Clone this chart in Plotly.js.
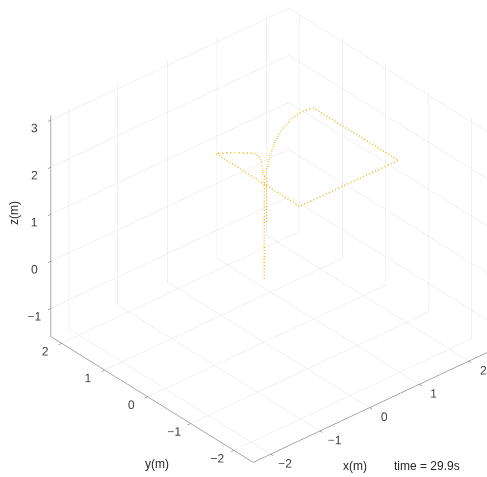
<!DOCTYPE html>
<html>
<head>
<meta charset="utf-8">
<script src="https://cdn.plot.ly/plotly-3.0.1.min.js"></script>
<style>html,body{margin:0;padding:0;background:#fff;}#chart{width:487px;height:477px;}</style>
</head>
<body>
<div id="chart"></div>
<script>
// Trajectory samples (x, y, z in metres)
var pathX = [0, 0, 0.25, 0.57, 0.83, 1.13, 1.42, 1.62, 1.79, 1.89, 1.90, -0.09, -0.07, 0.13, 0.28, 0.37, 0.37, 0.28, 0.08, 0.03, 0.03];
var pathY = [0, 0, 0.22, 0.50, 0.71, 0.89, 1.02, 1.06, 1.06, 1.03, -0.93, -0.92, 1.04, 0.89, 0.75, 0.67, 0.55, 0.38, 0.12, -0.02, -0.02];
var pathZ = [-0.25, 1.85, 1.85, 1.85, 1.85, 1.85, 1.85, 1.85, 1.85, 1.85, 1.85, 1.85, 1.85, 1.85, 1.85, 1.85, 1.85, 1.85, 1.85, 1.85, 0.9];

var xRange = [-2.35, 2.45];
var yRange = [-2.45, 2.25];
var zRange = [-1.6, 3.1];
var xTicks = [-2, -1, 0, 1, 2];
var yTicks = [-2, -1, 0, 1, 2];
var zTicks = [-1, 0, 1, 2, 3];
var timeLabel = 'time = 29.9s';

// view: looking from (-x, -y, +z), orthographic
var N = 1.5;
var K = 1.322;
var shift = {x: -0.0952, y: 0.0662, z: -0.0194};
var eye = {x: -0.552 * N + shift.x, y: -0.635 * N + shift.y, z: 0.5406 * N + shift.z};

function axisStyle(range, ticks) {
  return {
    range: range,
    tickmode: 'array',
    tickvals: ticks,
    tickangle: 0,
    showgrid: true,
    gridcolor: '#e3e3e3',
    gridwidth: 1,
    showline: true,
    linecolor: '#555555',
    linewidth: 1,
    zeroline: false,
    showbackground: false,
    showspikes: false,
    ticks: 'outside',
    ticklen: 4,
    tickcolor: '#555555',
    tickfont: {family: 'Liberation Sans, Arial, sans-serif', size: 12, color: '#404040'},
    title: {text: ''}
  };
}

var trace = {
  type: 'scatter3d',
  mode: 'lines',
  x: pathX, y: pathY, z: pathZ,
  line: {color: '#F0BE2A', width: 3, dash: 'dot'},
  hoverinfo: 'skip'
};

var annFont = {family: 'Liberation Sans, Arial, sans-serif', size: 12, color: '#262626'};
var layout = {
  width: 487, height: 477,
  margin: {l: 0, r: 0, t: 0, b: 0},
  paper_bgcolor: '#ffffff',
  showlegend: false,
  hovermode: false,
  scene: {
    domain: {x: [0, 1], y: [0, 1]},
    aspectmode: 'manual',
    aspectratio: {x: 1 * K, y: 0.978 * K, z: 0.834 * K},
    camera: {eye: eye, up: {x: 0, y: 0, z: 1}, center: shift, projection: {type: 'orthographic'}},
    xaxis: axisStyle(xRange, xTicks),
    yaxis: axisStyle(yRange, yTicks),
    zaxis: axisStyle(zRange, zTicks)
  },
  annotations: [
    {text: 'z(m)', x: 14 / 487, y: 1 - 213 / 477, xref: 'paper', yref: 'paper', showarrow: false, textangle: -90, font: annFont, xanchor: 'center', yanchor: 'middle'},
    {text: 'y(m)', x: 157 / 487, y: 1 - 464 / 477, xref: 'paper', yref: 'paper', showarrow: false, font: annFont, xanchor: 'center', yanchor: 'middle'},
    {text: 'x(m)', x: 355 / 487, y: 1 - 466 / 477, xref: 'paper', yref: 'paper', showarrow: false, font: annFont, xanchor: 'center', yanchor: 'middle'},
    {text: timeLabel, x: 427 / 487, y: 1 - 466 / 477, xref: 'paper', yref: 'paper', showarrow: false, font: annFont, xanchor: 'center', yanchor: 'middle'}
  ]
};

Plotly.newPlot('chart', [trace], layout, {displayModeBar: false});
</script>
</body>
</html>
